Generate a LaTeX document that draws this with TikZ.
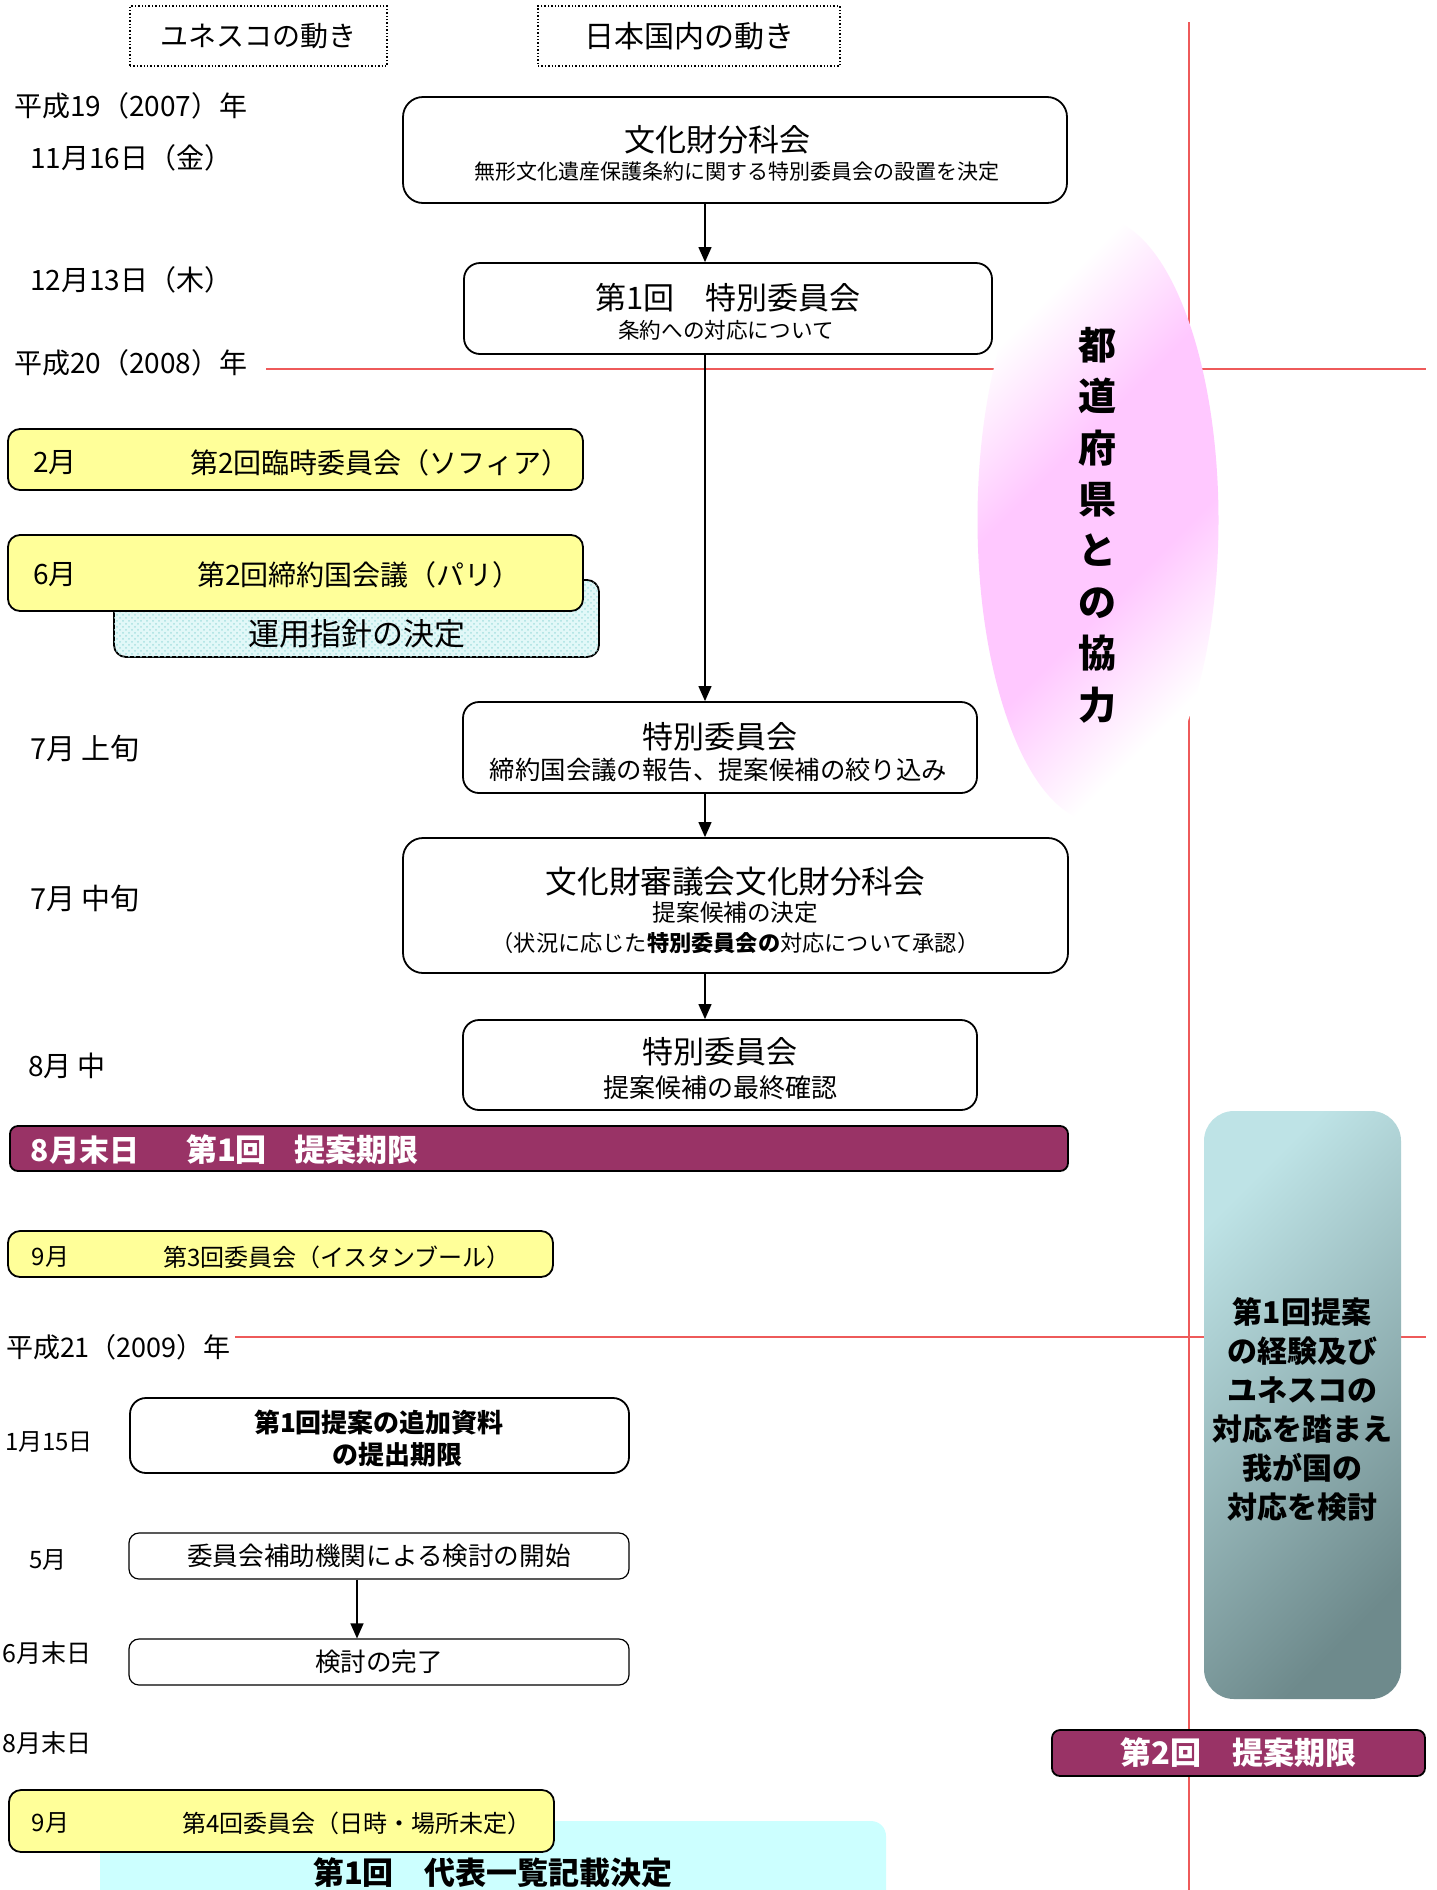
\documentclass[tikz,border=0pt]{standalone}
\usepackage{fontspec}
\setmainfont{Noto Sans CJK JP}
\usetikzlibrary{arrows.meta,shapes.geometric,patterns}
\definecolor{maroonc}{HTML}{993366}
\definecolor{yel}{HTML}{FFFF99}
\definecolor{cyanb}{HTML}{CCFFFF}
\definecolor{cyanl}{HTML}{E2F8F8}
\definecolor{cyand}{HTML}{A8E0E0}
\definecolor{redl}{HTML}{EE5A5A}
\definecolor{pinkc}{HTML}{FFC8FF}
\definecolor{teall}{HTML}{BEE3E6}
\definecolor{teald}{HTML}{6E8A8C}
\pgfdeclareverticalshading{pinkband}{100bp}{color(0bp)=(white); color(27bp)=(white); color(42bp)=(pinkc); color(58bp)=(pinkc); color(73bp)=(white); color(100bp)=(white)}
\newcommand\fz[1]{\fontsize{#1pt}{#1pt}\selectfont}
\begin{document}
\begin{tikzpicture}[x=0.5pt,y=-0.5pt,
 txt/.style={inner sep=0pt, outer sep=0pt},
 hdr/.style={draw, densely dotted, line width=0.7pt, minimum height=30pt, inner sep=0pt},
 wbox/.style={draw, rounded corners=8pt, line width=0.9pt, fill=white, inner sep=0pt},
 ybox/.style={draw, rounded corners=6pt, line width=0.9pt, fill=yel, inner sep=0pt},
 mbar/.style={draw, rounded corners=4pt, line width=0.9pt, fill=maroonc, inner sep=0pt},
 arr/.style={-{Triangle[length=7.5pt,width=6.5pt]}, line width=0.6pt},
 redline/.style={draw=redl, line width=0.75pt},
]
\useasboundingbox (0,0) rectangle (1436,1890);
\fill[white] (0,0) rectangle (1436,1890);

% red guide lines
\coordinate (vtop) at (1189,22);
\coordinate (vbot) at (1189,1890);
\draw[redline] (vtop) -- (vbot);
\coordinate (h1a) at (266,369); \coordinate (h1b) at (1426,369);
\draw[redline] (h1a) -- (h1b);
\coordinate (h2a) at (235,1337); \coordinate (h2b) at (1426,1337);
\draw[redline] (h2a) -- (h2b);

% headers
\node[hdr, minimum width=128.5pt, font=\fz{14}] (hu) at (258.5,36) {ユネスコの動き};
\node[hdr, minimum width=151pt, font=\fz{15}] (hj) at (689,36) {日本国内の動き};

% date labels
\node[txt, anchor=west, font=\fz{14}] (d1) at (14,106) {平成19（2007）年};
\node[txt, anchor=west, font=\fz{14}] (d2) at (30,158) {11月16日（金）};
\node[txt, anchor=west, font=\fz{14}] (d3) at (30,280) {12月13日（木）};
\node[txt, anchor=west, font=\fz{14}] (d4) at (14,363) {平成20（2008）年};
\node[txt, anchor=west, font=\fz{14.5}] (d5) at (30,749) {7月 上旬};
\node[txt, anchor=west, font=\fz{14.5}] (d6) at (30,899) {7月 中旬};
\node[txt, anchor=west, font=\fz{14}] (d7) at (28,1066) {8月 中};
\node[txt, anchor=west, font=\fz{13.5}] (d8) at (6,1347) {平成21（2009）年};
\node[txt, anchor=west, font=\fz{12}] (d9) at (5,1442) {1月15日};
\node[txt, anchor=west, font=\fz{12}] (d10) at (29,1560) {5月};
\node[txt, anchor=west, font=\fz{12.5}] (d11) at (3,1653) {6月末日};
\node[txt, anchor=west, font=\fz{12.5}] (d12) at (3,1743) {8月末日};

% main column
\node[wbox, rounded corners=10pt, minimum width=332pt, minimum height=53pt] (b1) at (735,150) {};
\node[txt, font=\fz{15.5}] (b1t) at (717,140) {文化財分科会};
\node[txt, font=\fz{10.5}] (b1s) at (737,172) {無形文化遺産保護条約に関する特別委員会の設置を決定};

\node[wbox, minimum width=264pt, minimum height=45.5pt] (b2) at (728,308.5) {};
\node[txt, font=\fz{15.5}] (b2t) at (728,298) {第1回　特別委員会};
\node[txt, font=\fz{10.8}] (b2s) at (726,330) {条約への対応について};

\node[wbox, minimum width=257pt, minimum height=45.5pt] (b3) at (720,747.5) {};
\node[txt, font=\fz{15.5}] (b3t) at (720,737) {特別委員会};
\node[txt, font=\fz{12.7}] (b3s) at (718.5,770) {締約国会議の報告、提案候補の絞り込み};

\node[wbox, rounded corners=10pt, minimum width=332.5pt, minimum height=67.5pt] (b4) at (735.5,905.5) {};
\node[txt, font=\fz{15.8}] (b4t) at (735.5,882) {文化財審議会文化財分科会};
\node[txt, font=\fz{11.8}] (b4s) at (735.5,913) {提案候補の決定};
\node[txt, font=\fz{11.1}] (b4u) at (735.5,943) {（状況に応じた{\bfseries 特別委員会の}対応について承認）};

\node[wbox, minimum width=257pt, minimum height=45pt] (b5) at (720,1065) {};
\node[txt, font=\fz{15.5}] (b5t) at (720,1052) {特別委員会};
\node[txt, font=\fz{13}] (b5s) at (720,1088) {提案候補の最終確認};

\coordinate (ax) at (705,0);
\draw[arr] (b1.south -| ax) -- (b2.north -| ax);
\draw[arr] (b2.south -| ax) -- (b3.north -| ax);
\draw[arr] (b3.south -| ax) -- (b4.north -| ax);
\draw[arr] (b4.south -| ax) -- (b5.north -| ax);

% ellipse
\node[ellipse, minimum width=120.5pt, minimum height=302pt, inner sep=0pt,
  shading=pinkband, shading angle=45] (el) at (1098,520) {};
\node[txt, font=\bfseries\fontsize{19pt}{25.7pt}\selectfont, align=center] (elt) at (1097,525)
  {都\\道\\府\\県\\と\\の\\協\\力};

% UNESCO column
\node[ybox, minimum width=287.5pt, minimum height=30.5pt] (y1) at (295.5,459.5) {};
\node[txt, font=\fz{14}, anchor=west] (y1a) at (33,463) {2月};
\node[txt, font=\fz{14}, anchor=west] (y1b) at (190,463) {第2回臨時委員会（ソフィア）};

\node[draw, rounded corners=6pt, line width=0.9pt, fill=cyanl,
  postaction={pattern=crosshatch dots, pattern color=cyand},
  minimum width=242.5pt, minimum height=38.5pt, inner sep=0pt] (cy) at (356.5,618.5) {};
\node[txt, font=\fz{15.5}] (cyt) at (357,634) {運用指針の決定};
\node[ybox, minimum width=287.5pt, minimum height=38pt] (y2) at (295.5,573) {};
\node[txt, font=\fz{14}, anchor=west] (y2a) at (33,575) {6月};
\node[txt, font=\fz{14}, anchor=west] (y2b) at (197,575) {第2回締約国会議（パリ）};

% deadline 1
\node[mbar, minimum width=529pt, minimum height=22.5pt] (m1) at (539,1148.5) {};
\node[txt, text=white, font=\bfseries\fz{15}, anchor=west] (m1a) at (31,1150) {8月末日};
\node[txt, text=white, font=\bfseries\fz{15.5}, anchor=west] (m1b) at (186,1150) {第1回};
\node[txt, text=white, font=\bfseries\fz{15.5}, anchor=west] (m1c) at (294,1150) {提案期限};

\node[ybox, minimum width=272.5pt, minimum height=23pt] (y3) at (280.5,1254) {};
\node[txt, font=\fz{12}, anchor=west] (y3a) at (32,1257) {9月};
\node[txt, font=\fz{12}, anchor=west] (y3b) at (163,1257) {第3回委員会（イスタンブール）};

% 2009
\node[wbox, minimum width=249.5pt, minimum height=37.5pt] (w1) at (379.5,1435.5) {};
\node[txt, font=\bfseries\fz{13}] (w1a) at (379,1423) {第1回提案の追加資料};
\node[txt, font=\bfseries\fz{13}] (w1b) at (397,1455) {の提出期限};

\node[wbox, rounded corners=5pt, line width=0.6pt, minimum width=250pt, minimum height=23pt, font=\fz{12.8}] (w2) at (379,1556) {委員会補助機関による検討の開始};
\node[wbox, rounded corners=5pt, line width=0.6pt, minimum width=250pt, minimum height=23pt, font=\fz{12.8}] (w3) at (379,1662) {検討の完了};
\coordinate (bx) at (357,0);
\draw[arr] (w2.south -| bx) -- (w3.north -| bx);

% right column
\node[rounded corners=15pt, minimum width=98.5pt, minimum height=294pt, inner sep=0pt,
  left color=teall, right color=teald, shading angle=45] (tl) at (1302.5,1405) {};
\node[txt, font=\bfseries\fontsize{15pt}{19.5pt}\selectfont, align=center] (tlt) at (1302,1410)
  {第1回提案\\の経験及び\\ユネスコの\\対応を踏まえ\\我が国の\\対応を検討};

\node[mbar, minimum width=186.5pt, minimum height=23pt, text=white, font=\bfseries\fz{15.5}] (m2) at (1238.5,1753) {第2回　提案期限};

% bottom
\node[fill=cyanb, rounded corners=7.5pt, minimum width=393pt, minimum height=50pt, inner sep=0pt] (bc) at (493,1871) {};
\node[txt, font=\bfseries\fz{15.5}] (bct) at (493,1873) {第1回　代表一覧記載決定};
\node[ybox, minimum width=272.5pt, minimum height=31pt] (y4) at (281.5,1821) {};
\node[txt, font=\fz{12}, anchor=west] (y4a) at (32,1823) {9月};
\node[txt, font=\fz{12}, anchor=west] (y4b) at (182,1823) {第4回委員会（日時・場所未定）};
\end{tikzpicture}
\end{document}
